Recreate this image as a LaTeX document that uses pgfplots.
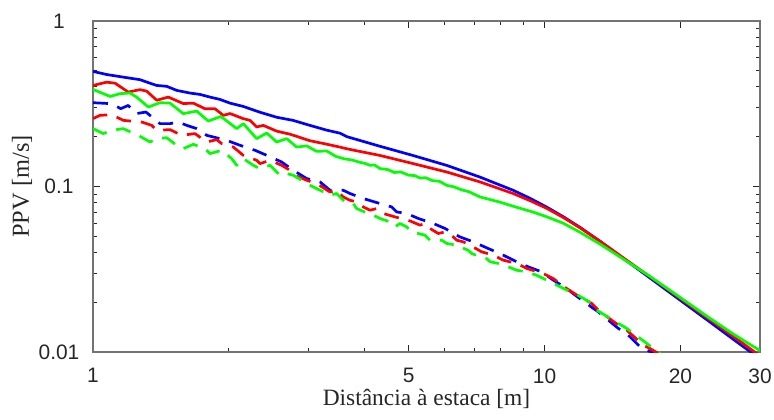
\documentclass[border=0pt]{standalone}
\usepackage{fontspec}
\setmainfont{Liberation Serif}
\newfontfamily\arial{Liberation Sans}
\usepackage{pgfplots}
\pgfplotsset{compat=1.18}
\definecolor{cb}{rgb}{0,0,1}
\definecolor{cr}{rgb}{1,0,0}
\definecolor{cg}{rgb}{0,1,0}
\definecolor{axgray}{rgb}{0.15,0.15,0.15}

\pgfplotstableread{
x y
1.000 0.496
1.072 0.475
1.167 0.458
1.271 0.442
1.337 0.421
1.384 0.408
1.456 0.403
1.532 0.381
1.640 0.367
1.726 0.360
1.816 0.347
1.910 0.336
2.011 0.319
2.149 0.305
2.343 0.281
2.552 0.262
2.773 0.251
3.024 0.234
3.293 0.219
3.524 0.210
3.652 0.200
4.321 0.175
5.112 0.154
6.080 0.134
7.194 0.114
8.511 0.095
9.300 0.0847
10.12 0.0750
11.00 0.0657
12.00 0.0565
13.30 0.0465
15.00 0.0365
17.00 0.0284
20.00 0.0205
23.00 0.0155
26.00 0.0121
28.60 0.0100
30.00 0.0091
}\blueSolid

\pgfplotstableread{
x y
1.000 0.408
1.072 0.427
1.119 0.421
1.197 0.372
1.271 0.385
1.315 0.377
1.384 0.332
1.468 0.347
1.585 0.317
1.668 0.319
1.770 0.295
1.863 0.295
1.944 0.269
2.011 0.276
2.152 0.257
2.227 0.251
2.304 0.229
2.383 0.234
2.552 0.216
2.731 0.207
2.873 0.198
3.024 0.189
3.236 0.182
3.524 0.173
3.650 0.169
4.321 0.154
5.120 0.1375
6.070 0.1224
7.194 0.1066
8.520 0.0907
9.300 0.0820
10.12 0.0737
11.00 0.0650
12.00 0.0561
13.30 0.0465
15.00 0.0368
17.00 0.0289
20.00 0.0210
23.00 0.0160
26.00 0.0126
29.20 0.0100
30.00 0.0095
}\redSolid

\pgfplotstableread{
x y
1.000 0.386
1.054 0.364
1.091 0.350
1.148 0.364
1.208 0.367
1.249 0.347
1.326 0.302
1.407 0.321
1.481 0.319
1.585 0.2755
1.697 0.2856
1.800 0.2486
1.920 0.265
2.081 0.2237
2.152 0.2398
2.304 0.1947
2.425 0.2104
2.552 0.1857
2.685 0.1947
2.825 0.1732
2.973 0.176
3.129 0.163
3.293 0.164
3.450 0.152
3.600 0.147
3.750 0.1445
3.900 0.140
4.000 0.138
4.106 0.1343
4.200 0.135
4.321 0.1283
4.500 0.1265
4.650 0.1215
4.800 0.1225
5.000 0.117
5.150 0.1165
5.300 0.1125
5.450 0.113
5.650 0.1085
5.850 0.1075
6.070 0.1017
6.300 0.0995
6.550 0.0955
6.800 0.093
7.194 0.0865
7.500 0.084
7.960 0.0805
8.520 0.0760
9.440 0.0700
10.10 0.0657
11.00 0.0600
12.00 0.0528
13.30 0.0447
15.00 0.0362
17.00 0.0290
20.00 0.0213
23.00 0.0163
26.00 0.0130
28.00 0.01145
30.00 0.0102
}\greenSolid

\pgfplotstableread{
x y
1.000 0.321
1.100 0.3165
1.152 0.2953
1.197 0.309
1.245 0.2755
1.310 0.2818
1.407 0.2398
1.481 0.2398
1.545 0.2451
1.613 0.2342
1.697 0.2237
1.786 0.2038
1.977 0.1901
2.116 0.1774
2.285 0.1655
2.425 0.1543
2.617 0.1406
2.777 0.1253
2.973 0.1117
3.182 0.1066
3.349 0.0949
3.583 0.0949
3.708 0.0907
3.968 0.0846
4.321 0.0789
4.585 0.0753
4.705 0.0702
4.951 0.0687
5.253 0.0641
5.668 0.0598
6.018 0.0558
6.495 0.0496
6.953 0.0463
7.504 0.0422
7.963 0.0394
8.674 0.0351
9.202 0.0327
9.853 0.0305
10.45 0.0272
11.19 0.0242
11.68 0.0221
12.82 0.01835
13.15 0.0175
14.56 0.0139
15.32 0.01266
16.41 0.0105
17.26 0.0100
17.80 0.0091
}\blueDash

\pgfplotstableread{
x y
1.000 0.257
1.036 0.2691
1.100 0.2717
1.167 0.251
1.282 0.2451
1.349 0.2342
1.384 0.2185
1.481 0.2206
1.572 0.2038
1.682 0.2088
1.786 0.1857
1.879 0.192
1.928 0.1816
2.045 0.1732
2.152 0.1543
2.304 0.144
2.343 0.1375
2.466 0.144
2.617 0.1343
2.731 0.1253
2.802 0.1169
2.973 0.1091
3.129 0.1041
3.349 0.0927
3.464 0.0949
3.583 0.0865
3.708 0.0826
3.836 0.0807
3.968 0.0753
4.106 0.0719
4.248 0.0736
4.393 0.0687
4.665 0.0655
5.033 0.0620
5.299 0.0584
5.435 0.0598
5.575 0.0558
5.816 0.0520
6.018 0.0532
6.277 0.0496
6.388 0.0474
6.607 0.0463
6.837 0.0442
7.256 0.0403
7.699 0.0385
8.101 0.0359
8.674 0.0343
9.128 0.0320
9.934 0.0298
10.45 0.0278
11.19 0.0242
11.78 0.0221
12.72 0.01967
13.15 0.0179
14.56 0.01456
15.20 0.01358
16.54 0.0110
17.12 0.0105
17.86 0.0098
18.20 0.0094
}\redDash

\pgfplotstableread{
x y
1.000 0.2237
1.054 0.2088
1.100 0.2185
1.167 0.2237
1.271 0.2010
1.337 0.1857
1.384 0.1947
1.456 0.1973
1.532 0.1774
1.585 0.1694
1.668 0.1798
1.770 0.1694
1.816 0.1580
1.928 0.1655
2.028 0.1474
2.081 0.1343
2.152 0.1474
2.265 0.1343
2.343 0.1283
2.466 0.1343
2.595 0.1169
2.685 0.1197
2.777 0.1169
2.898 0.1091
2.973 0.1041
3.349 0.0886
3.464 0.0907
3.524 0.0865
3.614 0.0807
3.771 0.0789
3.836 0.0736
4.070 0.0687
4.176 0.0671
4.321 0.0641
4.546 0.0611
4.665 0.0570
4.784 0.0598
4.951 0.0570
5.078 0.0532
5.435 0.0508
5.575 0.0474
5.918 0.0474
6.070 0.0453
6.388 0.0442
6.495 0.0432
6.776 0.0412
6.896 0.0394
7.194 0.0376
7.444 0.0367
7.570 0.0351
7.897 0.0343
8.312 0.0327
8.674 0.0312
9.128 0.0305
9.605 0.0291
10.10 0.0272
10.45 0.0260
11.19 0.0237
11.68 0.0226
12.72 0.01967
13.05 0.0179
14.56 0.0149
15.20 0.0139
16.83 0.01128
17.41 0.0105
18.02 0.0098
18.40 0.0094
}\greenDash

\begin{document}
\begin{tikzpicture}
\useasboundingbox (-93bp,-68bp) rectangle (681bp,352bp);
\begin{axis}[
  at={(0,0)}, anchor=south west,
  scale only axis, width=667bp, height=331bp,
  xmode=log, ymode=log,
  xmin=1, xmax=30, ymin=0.01, ymax=1,
  xtick={1,5,10,20,30}, xticklabels={1,5,10,20,30},
  minor xtick={2,3,4,6,7,8,9},
  ytick={0.01,0.1,1}, yticklabels={0.01,0.1,1},
  minor ytick={0.02,0.03,0.04,0.05,0.06,0.07,0.08,0.09,0.2,0.3,0.4,0.5,0.6,0.7,0.8,0.9},
  tick align=inside,
  major tick length=7bp, minor tick length=4bp,
  tick style={color=axgray, line width=1bp},
  axis line style={color=black!55, line width=1.3bp},
  ticklabel style={font=\arial\fontsize{21}{21}\selectfont, text=axgray},
  xticklabel style={yshift=-13bp},
  yticklabel style={anchor=center, xshift=-34bp},
  xlabel={Distância à estaca [m]},
  ylabel={PPV [m/s]},
  every axis x label/.style={at={(axis description cs:0.5,-0.142)}, anchor=center,
     font=\fontsize{23.5}{23.5}\selectfont, text=axgray},
  every axis y label/.style={at={(axis description cs:-0.1064,0.5)}, rotate=90, anchor=center,
     font=\fontsize{24.5}{24.5}\selectfont, text=axgray},
  every axis plot/.append style={line width=2.7bp, line join=round, line cap=butt, no markers},
]
\addplot[cb] table {\blueSolid};
\addplot[cr] table {\redSolid};
\addplot[cg] table {\greenSolid};
\addplot[cb, dash pattern=on 15bp off 10bp] table {\blueDash};
\addplot[cr, dash pattern=on 15bp off 10bp] table {\redDash};
\addplot[cg, dash pattern=on 15bp off 10bp] table {\greenDash};
\end{axis}
\end{tikzpicture}
\end{document}
